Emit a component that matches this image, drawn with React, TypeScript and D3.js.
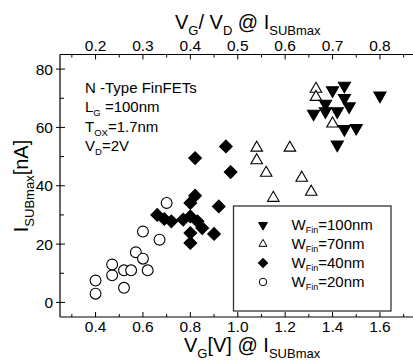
import React from "react";
import * as d3 from "d3";

// V_G [V] @ I_SUBmax, I_SUBmax [nA]
const wFin100 = [
  [1.32, 64.7], [1.37, 65.5], [1.37, 68.1], [1.4, 72.7], [1.42, 65.5], [1.42, 54.1],
  [1.45, 74.3], [1.45, 70.1], [1.45, 59.4], [1.47, 67.2], [1.5, 59.8], [1.6, 70.9],
];
const wFin70 = [
  [1.08, 53], [1.08, 48.7], [1.12, 44.4], [1.15, 35.8], [1.22, 53], [1.27, 42.7],
  [1.31, 37.9], [1.33, 73.2], [1.33, 70.4], [1.4, 61.3],
];
const wFin40 = [
  [0.66, 30], [0.69, 28.6], [0.72, 27.8], [0.77, 28.4], [0.8, 29.5], [0.83, 27.8],
  [0.85, 25.5], [0.8, 23.8], [0.8, 20.4], [0.9, 23.5], [0.8, 34.1], [0.82, 36.6],
  [0.92, 32.9], [0.82, 49.5], [0.95, 53.5], [0.97, 44.7],
];
const wFin20 = [
  [0.4, 3], [0.4, 7.5], [0.47, 9.3], [0.47, 13], [0.52, 5], [0.52, 11], [0.55, 11],
  [0.57, 17.2], [0.6, 15], [0.6, 24.3], [0.62, 11], [0.67, 21.5], [0.7, 34.1],
];

const bottomTicks = [0.4, 0.6, 0.8, 1.0, 1.2, 1.4, 1.6];
const bottomMinor = [0.3, 0.5, 0.7, 0.9, 1.1, 1.3, 1.5, 1.7];
const topTicks = [0.2, 0.3, 0.4, 0.5, 0.6, 0.7, 0.8];
const topMinor = [0.15, 0.25, 0.35, 0.45, 0.55, 0.65, 0.75, 0.85];
const yTicks = [0, 20, 40, 60, 80];
const yMinor = [10, 30, 50, 70];
const legendNames = ["100nm", "70nm", "40nm", "20nm"];

const font = "'Liberation Sans', Arial, sans-serif";

const App = () => {
  const left = 60;
  const top = 54.5;
  const bottom = 317;
  const x = d3.scaleLinear().domain([0.25, 1.75]).range([left, left + 355.5]);
  const xTop = d3.scaleLinear().domain([0.125, 0.875]).range([left, left + 355.5]);
  const y = d3.scaleLinear().domain([-5, 85]).range([bottom, top]);

  const triDown = d3.symbol().type(d3.symbolTriangle).size(64);
  const triUp = d3.symbol().type(d3.symbolTriangle).size(58);
  const diamond = d3.symbol().type(d3.symbolSquare).size(80);
  const circle = d3.symbol().type(d3.symbolCircle).size(92);

  const series = [
    { data: wFin20, path: circle(), rot: 0, fill: "#fff" },
    { data: wFin40, path: diamond(), rot: 45, fill: "#000" },
    { data: wFin70, path: triUp(), rot: 0, fill: "#fff" },
    { data: wFin100, path: triDown(), rot: 180, fill: "#000" },
  ];

  const legendSyms = [
    { path: d3.symbol().type(d3.symbolTriangle).size(34)(), rot: 180, fill: "#000" },
    { path: d3.symbol().type(d3.symbolTriangle).size(28)(), rot: 0, fill: "#fff" },
    { path: d3.symbol().type(d3.symbolSquare).size(42)(), rot: 45, fill: "#000" },
    { path: d3.symbol().type(d3.symbolCircle).size(44)(), rot: 0, fill: "#fff" },
  ];

  return (
    <svg
      width={413}
      height={360}
      style={{ position: "absolute", left: 0, top: 0, background: "#fff" }}
      fontFamily={font}
    >
      {/* frame */}
      <line x1={left} x2={420} y1={top} y2={top} stroke="#000" strokeWidth={1.2} />
      <line x1={left} x2={420} y1={bottom} y2={bottom} stroke="#000" strokeWidth={1.2} />
      <line x1={left} x2={left} y1={top} y2={bottom} stroke="#000" strokeWidth={1.2} />

      {/* bottom axis */}
      {bottomTicks.map((t) => (
        <g key={"b" + t}>
          <line x1={x(t)} x2={x(t)} y1={bottom} y2={bottom - 5} stroke="#000" />
          <text x={x(t)} y={332} fontSize={15.5} textAnchor="middle">
            {t.toFixed(1)}
          </text>
        </g>
      ))}
      {bottomMinor.map((t) => (
        <line key={"bm" + t} x1={x(t)} x2={x(t)} y1={bottom} y2={bottom - 3} stroke="#000" />
      ))}

      {/* top axis */}
      {topTicks.map((t) => (
        <g key={"t" + t}>
          <line x1={xTop(t)} x2={xTop(t)} y1={top} y2={top + 5} stroke="#000" />
          <text x={xTop(t)} y={51} fontSize={15.5} textAnchor="middle">
            {t.toFixed(1)}
          </text>
        </g>
      ))}
      {topMinor.map((t) => (
        <line key={"tm" + t} x1={xTop(t)} x2={xTop(t)} y1={top} y2={top + 3} stroke="#000" />
      ))}

      {/* left axis */}
      {yTicks.map((t) => (
        <g key={"y" + t}>
          <line x1={left - 4} x2={left + 5} y1={y(t)} y2={y(t)} stroke="#000" />
          <text x={53} y={y(t) + 5.5} fontSize={15.5} textAnchor="end">
            {t}
          </text>
        </g>
      ))}
      {yMinor.map((t) => (
        <line key={"ym" + t} x1={left} x2={left + 4} y1={y(t)} y2={y(t)} stroke="#000" />
      ))}

      {/* axis titles */}
      <text x={175} y={29} fontSize={20}>
        V<tspan fontSize={13} dy={6}>G</tspan>
        <tspan dy={-6}>/ V</tspan>
        <tspan fontSize={13} dy={6}>D</tspan>
        <tspan dy={-6}> @ I</tspan>
        <tspan fontSize={13} dy={6}>SUBmax</tspan>
      </text>
      <text x={184} y={352} fontSize={20}>
        V<tspan fontSize={13} dy={6}>G</tspan>
        <tspan dy={-6}>[V] @ I</tspan>
        <tspan fontSize={13} dy={6}>SUBmax</tspan>
      </text>
      <text transform="translate(28,186) rotate(-90)" fontSize={20} textAnchor="middle">
        I<tspan fontSize={13} dy={6}>SUBmax</tspan>
        <tspan dy={-6}>[nA]</tspan>
      </text>

      {/* annotation */}
      <g fontSize={15}>
        <text x={85} y={92.5}>N -Type FinFETs</text>
        <text x={85} y={112}>
          L<tspan fontSize={9.5} dy={4}>G</tspan>
          <tspan dy={-4}> =100nm</tspan>
        </text>
        <text x={85} y={131.5}>
          T<tspan fontSize={9.5} dy={4}>OX</tspan>
          <tspan dy={-4}>=1.7nm</tspan>
        </text>
        <text x={85} y={151}>
          V<tspan fontSize={9.5} dy={4}>D</tspan>
          <tspan dy={-4}>=2V</tspan>
        </text>
      </g>

      {/* data */}
      {series.map((s, i) => (
        <g key={"s" + i}>
          {s.data.map((d, j) => (
            <path
              key={j}
              d={s.path as string}
              transform={`translate(${x(d[0])},${y(d[1])}) rotate(${s.rot})`}
              fill={s.fill}
              stroke="#000"
              strokeWidth={1.1}
            />
          ))}
        </g>
      ))}

      {/* legend */}
      <rect x={233.5} y={206} width={157.5} height={105} fill="#fff" stroke="#333" strokeWidth={1.3} />
      {legendNames.map((n, i) => {
        const base = 230 + i * 19;
        const s = legendSyms[i];
        return (
          <g key={"l" + i}>
            <path
              d={s.path as string}
              transform={`translate(263,${base - 5}) rotate(${s.rot})`}
              fill={s.fill}
              stroke="#000"
              strokeWidth={1}
            />
            <text x={291.5} y={base} fontSize={15}>
              W<tspan fontSize={9} dy={3}>Fin</tspan>
              <tspan dy={-3}>={n}</tspan>
            </text>
          </g>
        );
      })}
    </svg>
  );
};

export default App;
